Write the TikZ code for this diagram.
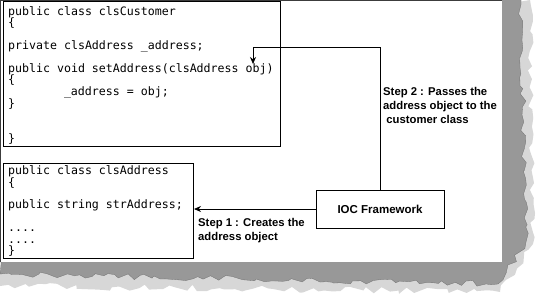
\documentclass[tikz,border=0pt]{standalone}
\usepackage{fontspec}
\setmainfont{Liberation Sans}
\newfontfamily\codefont{DejaVu Sans Mono}
\usetikzlibrary{positioning,arrows.meta,decorations.pathmorphing}
\definecolor{shadowgray}{RGB}{152,152,152}
\definecolor{fadegray}{RGB}{215,215,215}
\definecolor{framegray}{RGB}{60,60,60}

\begin{document}
\begin{tikzpicture}[x=1pt,y=-1pt,
  codebox/.style={draw,line width=1pt,anchor=north west,inner sep=0pt},
  codetext/.style={anchor=north west,align=left,inner sep=0pt,font=\codefont\fontsize{11.6}{11.45}\selectfont},
  stepnote/.style={anchor=north west,align=left,inner sep=0pt,font=\bfseries\fontsize{11.3}{14}\selectfont},
  flow/.style={line width=0.8pt,-{Stealth[length=7pt,width=6pt]}}]
\useasboundingbox (0,0) rectangle (540,295);
\pgfmathsetseed{11}
\fill[fadegray,decorate,decoration={random steps,segment length=7pt,amplitude=3.5pt}] (490,0) -- (530,0) -- (533,244) -- (500,292) -- (0,286) -- (0,250) -- (490,250) -- cycle;
\fill[shadowgray,draw=black!55,line width=0.3pt,decorate,decoration={random steps,segment length=6pt,amplitude=3pt}] (490,0) -- (521,0) -- (526,242) -- (498,284) -- (0,274) -- (0,250) -- (490,250) -- cycle;
\fill[white] (0,0) rectangle (502,262);
\draw[framegray,line width=1pt] (0.5,262) -- (0.5,0.5) -- (502,0.5);

\node[codebox,minimum width=277pt,minimum height=145pt] (customer) at (3,1) {};
\node[codetext] (customercode) at (8,6) {public class clsCustomer\\
\{\\
\mbox{}\\
private clsAddress \_address;\\
\mbox{}\\
public void setAddress(clsAddress obj)\\
\{\\
\hspace*{55.8pt}\_address = obj;\\
\}\\
\mbox{}\\
\mbox{}\\
\}};
\node[codebox,minimum width=190pt,minimum height=95pt] (address) at (3,163) {};
\node[codetext] (addresscode) at (8,165.5) {public class clsAddress\\
\{\\
\mbox{}\\
public string strAddress;\\
\mbox{}\\
....\\
....\\
\}};
\node[draw,line width=0.8pt,minimum width=128pt,minimum height=38pt,font=\bfseries\fontsize{11.5}{14}\selectfont] (ioc) at (380,209) {IOC Framework};
\coordinate (bend) at (253,47);
\coordinate (objtip) at (253,64);
\draw[flow] (ioc.north) |- (bend) -- (objtip);
\draw[flow] (ioc.west) -- (ioc.west -| address.east);
\node[stepnote] (step2) at (383,87) {Step 2 : Passes the\\address object to the\\\hspace*{0.28em}customer class};
\node[stepnote] (step1) at (198,218) {Step 1 : Creates the\\address object};
\end{tikzpicture}
\end{document}
